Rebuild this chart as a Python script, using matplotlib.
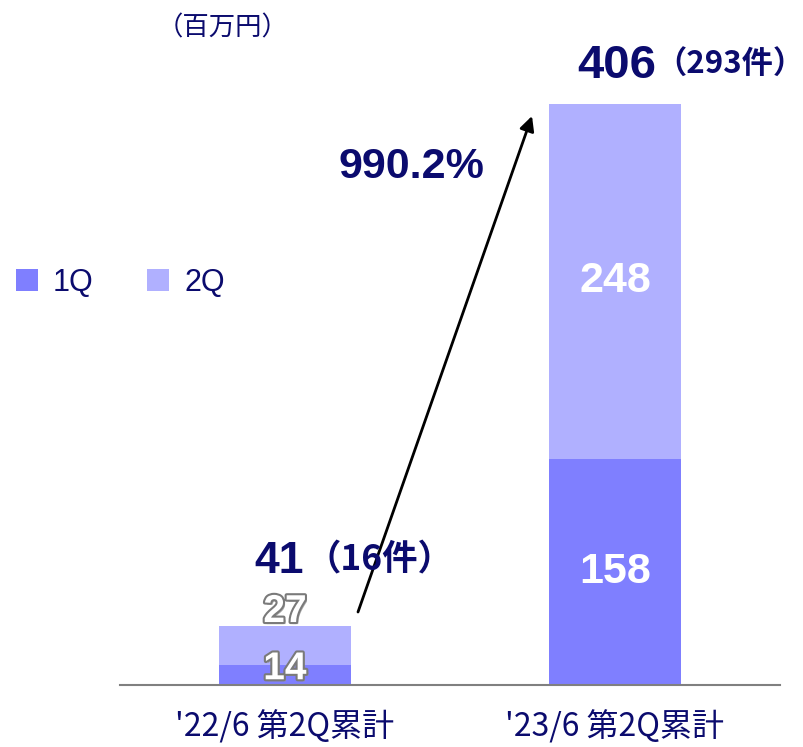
import numpy as np
import matplotlib.pyplot as plt
import matplotlib.patheffects as pe

# Données (百万円)
periodes = ["'22/6 第2Q累計", "'23/6 第2Q累計"]
q1 = [14, 158]
q2 = [27, 248]
totaux = [41, 406]
nb_cas = [16, 293]
croissance = "990.2%"

navy = '#0b0b6e'
col_q1 = '#7f7fff'
col_q2 = '#b0b0ff'
cjk = ['Noto Sans CJK JP', 'DejaVu Sans']
num = ['Liberation Sans', 'DejaVu Sans']

W, H = 804, 747
fig = plt.figure(figsize=(W / 100, H / 100), dpi=100)

# axes : ligne de base a y=685 px, de x=120 a x=780
ax = fig.add_axes([120 / W, 1 - 685 / H, 660 / W, 685 / H])
x = np.arange(len(periodes))
ax.bar(x, q1, width=0.4, color=col_q1, label='1Q')
ax.bar(x, q2, width=0.4, bottom=q1, color=col_q2, label='2Q')
ax.set_xlim(-0.5, 1.5)
ax.set_ylim(0, 685 / 1.431)

for s in ['top', 'right', 'left']:
    ax.spines[s].set_visible(False)
ax.spines['bottom'].set_color('#808080')
ax.spines['bottom'].set_linewidth(1.5)
ax.set_yticks([])
ax.set_xticks(x)
ax.set_xticklabels(periodes, family=cjk, fontsize=23, color=navy)
ax.tick_params(axis='x', length=0, pad=18)

# valeurs dans les barres
contour = [pe.SimplePatchShadow(offset=(1.5, -1.5), shadow_rgbFace='#999999', alpha=0.8),
           pe.Stroke(linewidth=3, foreground='#7a7a7a'), pe.Normal()]
# petite barre : etiquettes avec contour
ax.text(x[0], q1[0] / 2 + 4, str(q1[0]), ha='center', va='center', fontsize=28,
        fontweight='bold', color='white', family=num, path_effects=contour)
ax.text(x[0], totaux[0] + 10, str(q2[0]), ha='center', va='center', fontsize=28,
        fontweight='bold', color='white', family=num, path_effects=contour)
# grande barre
ax.text(x[1], q1[1] / 2, str(q1[1]), ha='center', va='center', fontsize=31,
        fontweight='bold', color='white', family=num)
ax.text(x[1], q1[1] + q2[1] / 2, str(q2[1]), ha='center', va='center', fontsize=31,
        fontweight='bold', color='white', family=num)

def fx(px):
    return px / W

def fy(py):
    return 1 - py / H

# totaux au-dessus des barres
fig.text(fx(254), fy(573), str(totaux[0]), fontsize=32, fontweight='bold', color=navy,
         family=num, va='baseline')
fig.text(fx(306), fy(570), '（%d件）' % nb_cas[0], fontsize=25.5, fontweight='bold',
         color=navy, family=cjk, va='baseline')
fig.text(fx(577), fy(78), str(totaux[1]), fontsize=34, fontweight='bold', color=navy,
         family=num, va='baseline')
fig.text(fx(655), fy(74), '（%d件）' % nb_cas[1], fontsize=22.5, fontweight='bold',
         color=navy, family=cjk, va='baseline')

# fleche de croissance
fig.add_artist(plt.Annotation('', xy=(532, H - 116), xytext=(358, H - 612),
                              xycoords='figure pixels', textcoords='figure pixels',
                              arrowprops=dict(arrowstyle='-|>', color='black', lw=2,
                                              mutation_scale=22, shrinkA=0, shrinkB=0)))
fig.text(fx(339), fy(178), croissance, fontsize=31, fontweight='bold', color=navy,
         family=num, va='baseline')

# unite
fig.text(fx(157), fy(28), '（百万円）', fontsize=19, color=navy, family=cjk, va='center')

# legende
fig.legend(loc='center left', bbox_to_anchor=(fx(-12), fy(283)), ncol=2, frameon=False,
           prop={'family': num, 'size': 22}, labelcolor=navy, handlelength=0.72,
           handleheight=0.72, handletextpad=0.5, columnspacing=1.75)

fig.savefig('out.png', dpi=100)
